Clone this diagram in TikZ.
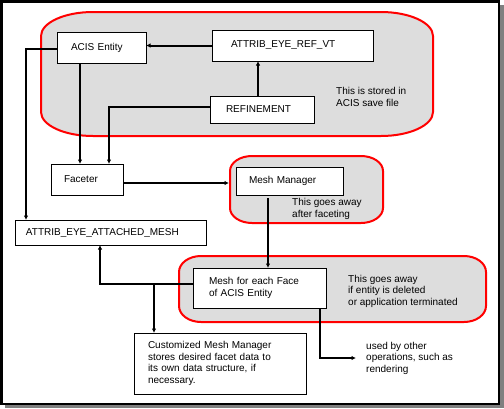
\documentclass[tikz,border=0pt]{standalone}
\usepackage{fontspec}
\setmainfont{Liberation Sans}
\usetikzlibrary{arrows.meta,calc}
\definecolor{cloudgray}{RGB}{221,221,221}
\definecolor{shadowgray}{RGB}{128,128,128}
\newcommand\cloudpath[6]{({#1+#5},#2) -- ({#3-#5},#2) .. controls ({#3-0.448*#5},#2) and (#3,{#2+0.448*#6}) .. (#3,{#2+#6})
 -- (#3,{#4-#6}) .. controls (#3,{#4-0.448*#6}) and ({#3-0.448*#5},#4) .. ({#3-#5},#4)
 -- ({#1+#5},#4) .. controls ({#1+0.448*#5},#4) and (#1,{#4-0.448*#6}) .. (#1,{#4-#6})
 -- (#1,{#2+#6}) .. controls (#1,{#2+0.448*#6}) and ({#1+0.448*#5},#2) .. ({#1+#5},#2) -- cycle}
\begin{document}
\begin{tikzpicture}[x=1pt,y=-1pt,
  txt/.style={font=\fontsize{10}{11.5}\selectfont},
  box/.style={draw=black, line width=1pt, fill=white, rectangle, anchor=north west,
    outer sep=0pt, inner ysep=0pt, align=left, txt},
  lbl/.style={anchor=west, inner sep=0pt, align=left, txt},
  conn/.style={line width=2pt, -{Latex[length=4.5pt,width=4.5pt]}},
  cloud/.style={draw=red, line width=2pt, fill=cloudgray},
]
\useasboundingbox (0,0) rectangle (504,408);
% frame with shadow
\fill[shadowgray] (5,5) rectangle (504,408);
\draw[line width=2.5pt, fill=white] (1.25,1.25) rectangle (498.75,403.75);

% grey regions
\draw[cloud] \cloudpath{41}{12}{433}{136}{52}{24};
\draw[cloud] \cloudpath{230}{156}{383}{223}{22}{15};
\draw[cloud] \cloudpath{179}{256}{486}{322}{22}{16};
\coordinate (c2w) at (229,189);

% boxes
\node[box, minimum width=89pt, minimum height=31pt, inner xsep=14pt, text width=61pt] (acis) at (57,32) {\mbox{ACIS Entity}};
\node[box, minimum width=161pt, minimum height=31pt, inner xsep=19pt, text width=123pt] (ref) at (212,30) {\mbox{ATTRIB\_EYE\_REF\_VT}};
\node[box, minimum width=104pt, minimum height=27pt, inner xsep=16pt, text width=72pt] (refn) at (210,96) {\mbox{REFINEMENT}};
\node[box, minimum width=72pt, minimum height=31pt, inner xsep=13pt, text width=46pt] (fac) at (51,164) {\mbox{Faceter}};
\node[box, minimum width=107pt, minimum height=28pt, inner xsep=13pt, text width=81pt] (mgr) at (236,167) {\mbox{Mesh Manager}};
\node[box, minimum width=191pt, minimum height=25pt, inner xsep=11pt, text width=169pt] (aeam) at (15,220) {\mbox{ATTRIB\_EYE\_ATTACHED\_MESH}};
\node[box, minimum width=133pt, minimum height=40pt, inner xsep=16pt, text width=101pt] (face) at (193,268) {\mbox{Mesh for each Face}\\\mbox{of ACIS Entity}};
\node[box, minimum width=172pt, minimum height=61pt, inner xsep=14pt, text width=144pt] (cust) at (134,333) {\mbox{Customized Mesh Manager}\\\mbox{stores desired facet data to}\\\mbox{its own data structure, if}\\\mbox{necessary.}};

% labels
\node[lbl] (stored) at (336,97) {This is stored in\\ACIS save file};
\node[lbl] (away1) at (292,209) {This goes away\\after faceting};
\node[lbl] (away2) at (348,291) {This goes away\\if entity is deleted\\or application terminated};
\node[lbl] (used) at (366,358) {used by other\\operations, such as\\rendering};

% connectors
\draw[conn] (ref.west) -- (ref.west -| acis.east);
\draw[conn] ([xshift=-4pt]refn.north) -- ([xshift=-4pt]refn.north |- ref.south);
\draw[conn] ([yshift=-1.5pt]acis.west) -| ([xshift=11pt]aeam.north west);
\draw[conn] ([xshift=-21.5pt]acis.south) -- ([xshift=-21.5pt]acis.south |- fac.north);
\draw[conn] ([yshift=2.5pt]refn.west) -| ([xshift=22pt]fac.north);
\draw[conn] ([yshift=-3.5pt]fac.east) -- ([yshift=-3.5pt]fac.east -| c2w);
\draw[conn] ([xshift=-21.5pt,yshift=-3pt]mgr.south) -- ([xshift=-21.5pt]mgr.south |- face.north);
\draw[conn] ([yshift=4pt]face.west) -| ([xshift=-10.5pt]aeam.south);
\coordinate (jn) at (154,284);
\draw[conn] (jn) -- (jn |- cust.north);
\draw[conn] ([xshift=60.5pt]face.south) |- ([xshift=-10pt]used.west);
\end{tikzpicture}
\end{document}
